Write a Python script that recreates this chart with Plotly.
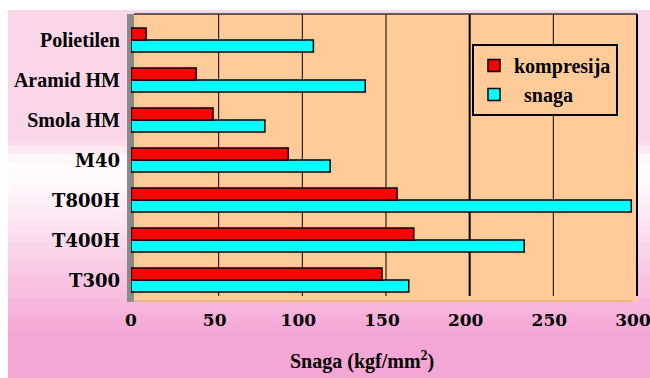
import plotly.graph_objects as go

categories = ["T300", "T400H", "T800H", "M40", "Smola HM", "Aramid HM", "Polietilen"]
kompresija = [150, 169, 159, 94, 49, 39, 9]
snaga = [166, 235, 299, 119, 80, 140, 109]
x_ticks = [0, 50, 100, 150, 200, 250, 300]
century_cats = {"T300", "T400H", "T800H", "M40"}

W, H = 650, 378
L, R, T, B = 131, 633, 20, 300  # front plot plane in pixels


def px(p):
    return (p - L) / (R - L)


def py(p):
    return (B - p) / (B - T)


def ticklab(c):
    if c in century_cats:
        return f'<span style="font-family:DejaVu Serif;font-size:18px">{c}</span>'
    return c


fig = go.Figure()
fig.add_trace(go.Bar(
    y=categories, x=snaga, orientation="h", name="  snaga",
    marker=dict(color="#00FFFF", line=dict(color="black", width=1.5)),
))
fig.add_trace(go.Bar(
    y=categories, x=kompresija, orientation="h", name="kompresija",
    marker=dict(color="#FF0000", line=dict(color="black", width=1.5)),
))

shapes = []


def lerp(c1, c2, t):
    return "#%02x%02x%02x" % tuple(int(round(a + (b - a) * t)) for a, b in zip(c1, c2))


def hexc(c):
    return "#%02x%02x%02x" % c


top = (249, 214, 232)
mid = (255, 250, 252)
bot = (244, 166, 212)
y0 = 10
nb = 46
for i in range(nb):
    ya = y0 + (H - y0) * i / nb
    yb = y0 + (H - y0) * (i + 1) / nb + 1
    yc = (ya + yb) / 2
    if yc < 140:
        col = hexc(top)
    elif yc < 160:
        col = lerp(top, mid, (yc - 140) / 20)
    elif yc < 185:
        col = hexc(mid)
    else:
        col = lerp(mid, bot, min(1, (yc - 185) / 150))
    shapes.append(dict(type="rect", xref="paper", yref="paper", layer="below",
                       x0=px(8), x1=px(W + 2), y0=py(ya), y1=py(yb),
                       fillcolor=col, line=dict(width=0)))
# back wall
shapes.append(dict(type="rect", xref="paper", yref="paper", layer="below",
                   x0=px(131), x1=px(637), y0=py(302), y1=py(14),
                   fillcolor="#FFCC99", line=dict(width=0)))
# gray left wall
shapes.append(dict(type="rect", xref="paper", yref="paper", layer="below",
                   x0=px(127), x1=px(134), y0=py(302), y1=py(14),
                   fillcolor="#8a8a8a", line=dict(width=0)))
# grid lines on back wall
for v in x_ticks[1:-1]:
    xx = 135 + v * (R - L) / 300
    shapes.append(dict(type="line", xref="paper", yref="paper", layer="below",
                       x0=px(xx), x1=px(xx), y0=py(296), y1=py(14),
                       line=dict(color="black", width=2 if v == 200 else 1)))
# borders
shapes.append(dict(type="line", xref="paper", yref="paper", layer="below",
                   x0=px(637), x1=px(637), y0=py(296), y1=py(14),
                   line=dict(color="black", width=2)))
shapes.append(dict(type="line", xref="paper", yref="paper", layer="below",
                   x0=px(134), x1=px(637), y0=py(14), y1=py(14),
                   line=dict(color="#333333", width=1.5)))
shapes.append(dict(type="line", xref="paper", yref="paper", layer="below",
                   x0=px(131), x1=px(633), y0=py(301), y1=py(301),
                   line=dict(color="#c8a070", width=1)))

fig.update_layout(
    width=W, height=H,
    margin=dict(l=L, r=W - R, t=T, b=H - B),
    paper_bgcolor="white",
    plot_bgcolor="rgba(0,0,0,0)",
    barmode="group", bargap=0.4, bargroupgap=0,
    shapes=shapes,
    showlegend=True,
    legend=dict(
        x=px(472), y=py(44), xanchor="left", yanchor="top",
        bgcolor="#FFCC99", bordercolor="black", borderwidth=2,
        traceorder="reversed",
        font=dict(family="Liberation Serif", size=20, color="black", weight="bold"),
    ),
    xaxis=dict(
        range=[-0.01, 300.01], tickvals=x_ticks, showgrid=False, zeroline=False,
        showline=False, ticks="", ticklabeloverflow="allow", automargin=False,
        tickfont=dict(family="DejaVu Serif", size=17, color="black", weight="bold"),
        ticklabelstandoff=8,
    ),
    yaxis=dict(
        categoryorder="array", categoryarray=categories,
        tickvals=categories, ticktext=[ticklab(c) for c in categories],
        showgrid=False, zeroline=False, showline=False, ticks="", automargin=False,
        tickfont=dict(family="Liberation Serif", size=20, color="black", weight="bold"),
        ticklabelstandoff=10,
    ),
    annotations=[dict(
        xref="paper", yref="paper", x=px(362), y=py(360),
        xanchor="center", yanchor="middle", showarrow=False,
        text='Snaga (kgf/mm<sup>2</sup>)',
        font=dict(family="Liberation Serif", size=20, color="black", weight="bold"),
    )],
)

fig.write_html("out.html")
